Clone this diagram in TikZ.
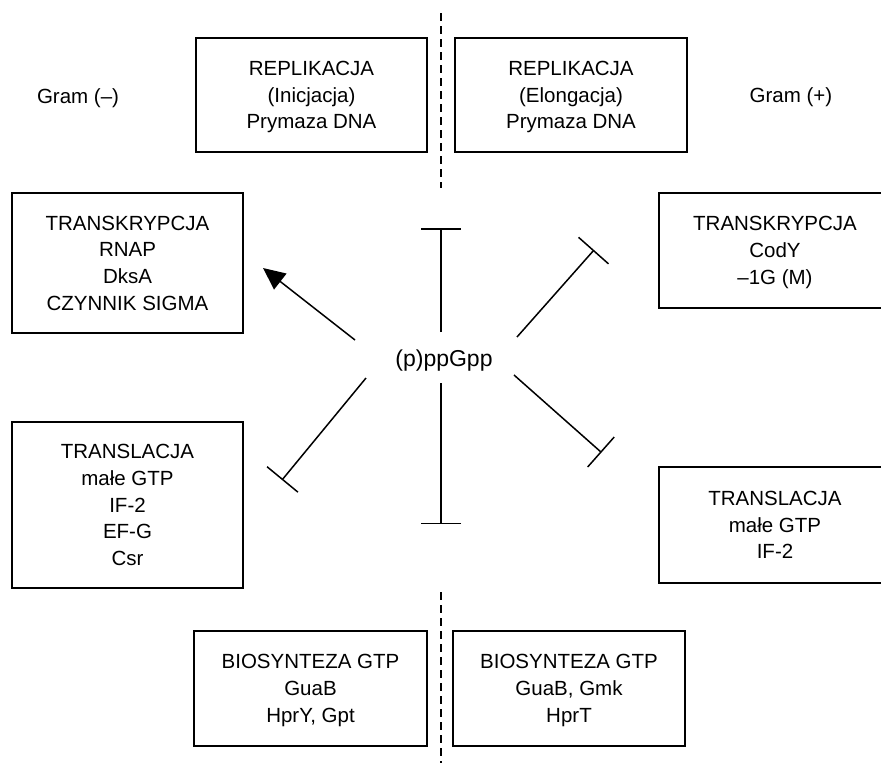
\documentclass[tikz,border=0pt]{standalone}
\usepackage{fontspec}
\setmainfont{Liberation Sans}
\usetikzlibrary{arrows.meta,positioning}

\begin{document}
\begin{tikzpicture}[
    x=1pt, y=-1pt,
    proc/.style={draw=black, line width=2pt, minimum width=231pt, align=center, inner sep=0pt,
                 text depth=-4pt, font=\fontsize{20.5}{26.7}\selectfont},
    side/.style={font=\fontsize{20.5}{26.7}\selectfont},
    inhib/.style={line width=1.5pt, -{Bar[width=40pt]}},
    activ/.style={line width=1.5pt, -{Triangle[length=22pt,width=20pt]}},
    split/.style={line width=2pt, dash pattern=on 8pt off 5pt}
]
\useasboundingbox (0,0) rectangle (881,763);

% linia podzialu
\coordinate (s1) at (441,13);
\coordinate (s2) at (441,188);
\coordinate (s3) at (441,592);
\coordinate (s4) at (441,763);
\draw[split] (s1) -- (s2);
\draw[split] (s3) -- (s4);

% Gram (-) / Gram (+)
\node[side] (gneg) at (78,98) {Gram (–)};
\node[side] (gpos) at (791,97) {Gram (+)};

% replikacja
\node[proc, minimum height=114pt] (repL) at (311.5,95) {REPLIKACJA\\(Inicjacja)\\Prymaza DNA};
\node[proc, minimum height=114pt, minimum width=232pt] (repR) at (571,95) {REPLIKACJA\\(Elongacja)\\Prymaza DNA};

% transkrypcja
\node[proc, minimum height=140pt] (trL) at (127.5,263) {TRANSKRYPCJA\\RNAP\\DksA\\CZYNNIK SIGMA};
\node[proc, minimum height=115pt, minimum width=232pt] (trR) at (775,250.5) {TRANSKRYPCJA\\CodY\\–1G (M)};

% translacja
\node[proc, minimum height=166pt] (tlL) at (127.5,505) {TRANSLACJA\\małe GTP\\IF-2\\EF-G\\Csr};
\node[proc, minimum height=116pt, minimum width=232pt] (tlR) at (775,525) {TRANSLACJA\\małe GTP\\IF-2};

% biosynteza GTP
\node[proc, minimum height=115pt, minimum width=233pt] (bioL) at (310.5,688.5) {BIOSYNTEZA GTP\\GuaB\\HprY, Gpt};
\node[proc, minimum height=115pt, minimum width=232pt] (bioR) at (569,688.5) {BIOSYNTEZA GTP\\GuaB, Gmk\\HprT};

% (p)ppGpp
\node[font=\fontsize{23}{26}\selectfont] (hub) at (444,361) {(p)ppGpp};

\coordinate (upA) at (441,332);   \coordinate (upB) at (441,228);
\coordinate (dnA) at (441,383);   \coordinate (dnB) at (441,524);
\coordinate (urA) at (517,337);   \coordinate (urB) at (594,250);
\coordinate (lrA) at (514,375);   \coordinate (lrB) at (601.5,452.5);
\coordinate (llA) at (366,378);   \coordinate (llB) at (282,480);
\coordinate (ulA) at (355,340);   \coordinate (ulB) at (263,268);

\draw[inhib] (upA) -- (upB);
\draw[inhib] (dnA) -- (dnB);
\draw[inhib] (urA) -- (urB);
\draw[inhib] (lrA) -- (lrB);
\draw[inhib] (llA) -- (llB);
\draw[activ] (ulA) -- (ulB);
\end{tikzpicture}
\end{document}
